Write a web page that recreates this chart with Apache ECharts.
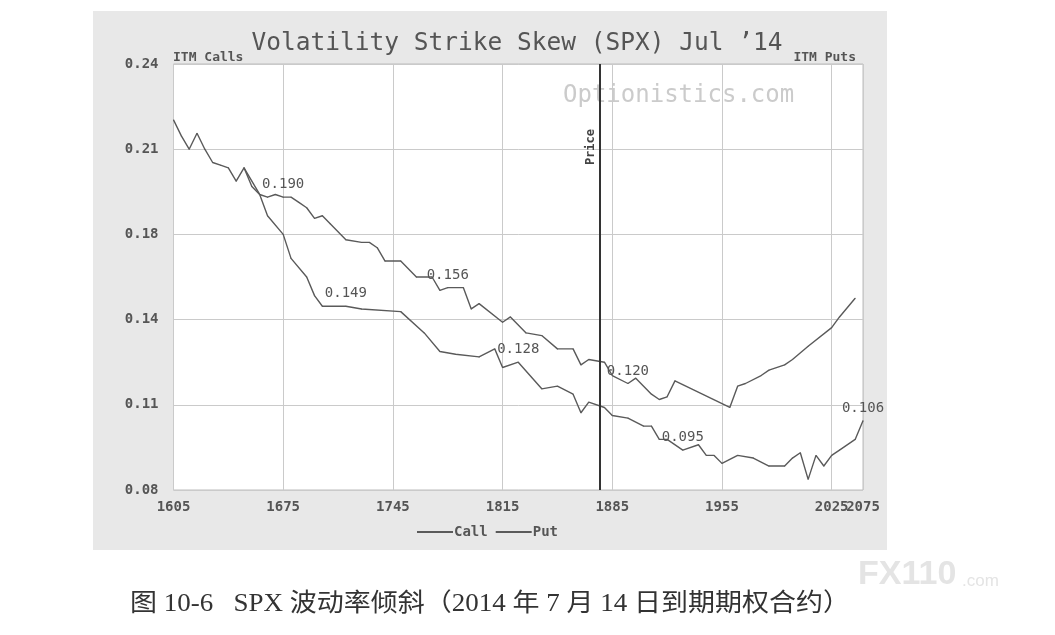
<!DOCTYPE html>
<html><head><meta charset="utf-8">
<script src="https://cdn.jsdelivr.net/npm/echarts@6/dist/echarts.min.js"></script>
<style>html,body{margin:0;padding:0;background:#fff}#c{width:1055px;height:635px}</style>
</head><body><div id="c"></div>
<script>
// ---- data ----
const xTickLabels = ['1605','1675','1745','1815','1885','1955','2025','2075'];
const yTickLabels = ['0.08','0.11','0.14','0.18','0.21','0.24'];
const xMin = 1605, xMax = 2045, xStep = 70;
const yMin = 0.08, yMax = 0.24;

const callStrikes = [1650,1660,1665,1675,1680,1690,1695,1700,1715,1725,1750,1765,1775,1785,1800,1810,1815,1825,1840,1850,1860,1865,1870,1880,1885,1895,1905,1910,1915,1920,1930,1940,1945,1950,1955,1965,1975,1985,1995,2000,2005,2010,2015,2020,2025,2030,2040,2045];
const callValues  = [0.201,0.191,0.183,0.176,0.167,0.160,0.153,0.149,0.149,0.148,0.147,0.139,0.132,0.131,0.130,0.133,0.126,0.128,0.118,0.119,0.116,0.109,0.113,0.111,0.108,0.107,0.104,0.104,0.099,0.099,0.095,0.097,0.093,0.093,0.090,0.093,0.092,0.089,0.089,0.092,0.094,0.084,0.093,0.089,0.093,0.095,0.099,0.106];

const putStrikes = [1605,1610,1615,1620,1625,1630,1635,1640,1645,1650,1655,1660,1665,1670,1675,1680,1685,1690,1695,1700,1705,1715,1725,1730,1735,1740,1750,1760,1770,1775,1780,1790,1795,1800,1815,1820,1830,1840,1850,1860,1865,1870,1880,1885,1895,1900,1910,1915,1920,1925,1960,1965,1970,1980,1985,1995,2000,2010,2025,2030,2040];
const putValues  = [0.219,0.213,0.208,0.214,0.208,0.203,0.202,0.201,0.196,0.201,0.194,0.191,0.190,0.191,0.190,0.190,0.188,0.186,0.182,0.183,0.180,0.174,0.173,0.173,0.171,0.166,0.166,0.160,0.160,0.155,0.156,0.156,0.148,0.150,0.143,0.145,0.139,0.138,0.133,0.133,0.127,0.129,0.128,0.123,0.120,0.122,0.116,0.114,0.115,0.121,0.111,0.119,0.120,0.123,0.125,0.127,0.129,0.134,0.141,0.145,0.152];

const callLabelStrikes = [1715,1825,1930,2045];
const putLabelStrikes  = [1675,1780,1895];
const priceStrike = 1877;

// ---- chart ----
const MONO = 'DejaVu Sans Mono';
const lineColor = '#5a5a5a';
function buildData(strikes, values, labelStrikes){
  return strikes.map((s,i)=>{
    const item = {value:[s, values[i]]};
    if (labelStrikes.indexOf(s) >= 0) item.label = {show:true};
    return item;
  });
}
const seriesLabel = {
  show:false, position:'top', distance:5,
  formatter: p => p.value[1].toFixed(3),
  fontFamily: MONO, fontSize: 14, color:'#555'
};
const tickFont = {fontFamily:MONO, fontWeight:'bold', fontSize:14, color:'#555'};
const lastX = xTickLabels.length - 1;
const xSpan = (xMax - xMin) / xStep;

const chart = echarts.init(document.getElementById('c'), null, {renderer:'canvas'});
chart.setOption({
  animation:false,
  backgroundColor:'#ffffff',
  grid:{left:173.5, top:64, width:689.5, height:426, show:true,
        backgroundColor:'#ffffff', borderColor:'#bdbdbd', borderWidth:1},
  xAxis:[
    {type:'value', min:xMin, max:xMax, show:false},
    {type:'value', min:0, max:xSpan, interval:1, position:'bottom',
     axisLine:{show:false}, axisTick:{show:false},
     splitLine:{show:true, lineStyle:{color:'#cacaca', width:1}},
     axisLabel:Object.assign({showMinLabel:true, showMaxLabel:false, margin:10,
       formatter: v => { const i = Math.round(v); return Math.abs(v-i) < 1e-6 ? xTickLabels[i] : ''; }}, tickFont)},
    {type:'value', min:0, max:xSpan, interval:1, position:'bottom',
     axisLine:{show:false}, axisTick:{show:false}, splitLine:{show:false},
     axisLabel:Object.assign({showMinLabel:false, showMaxLabel:true, margin:10,
       formatter: v => (Math.abs(v - xSpan) < 1e-6 ? xTickLabels[lastX] : '')}, tickFont)}
  ],
  yAxis:[
    {type:'value', min:yMin, max:yMax, show:false},
    {type:'value', min:0, max:yTickLabels.length-1, interval:1, position:'left',
     axisLine:{show:false}, axisTick:{show:false},
     splitLine:{show:true, lineStyle:{color:'#cacaca', width:1}},
     axisLabel:Object.assign({margin:15, formatter: v => yTickLabels[Math.round(v)]}, tickFont)}
  ],
  legend:{left:412, top:520, icon:'rect', itemWidth:36, itemHeight:2, itemGap:8,
    textStyle:{fontFamily:MONO, fontWeight:'bold', fontSize:14, color:'#555', padding:[0,0,0,-4]},
    data:['Call','Put']},
  series:[
    {name:'Call', type:'line', xAxisIndex:0, yAxisIndex:0,
     data: buildData(callStrikes, callValues, callLabelStrikes),
     symbol:'circle', symbolSize:1, showSymbol:true,
     lineStyle:{color:lineColor, width:1.4}, itemStyle:{color:lineColor},
     label: seriesLabel, z:3},
    {name:'Put', type:'line', xAxisIndex:0, yAxisIndex:0,
     data: buildData(putStrikes, putValues, putLabelStrikes),
     symbol:'circle', symbolSize:1, showSymbol:true,
     lineStyle:{color:lineColor, width:1.4}, itemStyle:{color:lineColor},
     label: seriesLabel, z:3,
     markLine:{silent:true, symbol:['none','none'],
       lineStyle:{color:'#333', width:2, type:'solid'},
       label:{show:true, formatter:'Price', position:'insideEndTop', distance:3,
         fontFamily:MONO, fontWeight:'bold', fontSize:12, color:'#444', padding:[0,62,0,0]},
       data:[{xAxis:priceStrike}]}}
  ],
  graphic:[
    {type:'rect', z:-10, shape:{x:93, y:11, width:794, height:539}, style:{fill:'#e8e8e8'}},
    {type:'text', x:517, y:44, style:{text:'Volatility Strike Skew (SPX) Jul \u201914', fontFamily:MONO,
      fontSize:24.5, fill:'#555', textAlign:'center', textVerticalAlign:'middle'}},
    {type:'text', x:173, y:58, style:{text:'ITM Calls', fontFamily:MONO, fontWeight:'bold',
      fontSize:13, fill:'#555', textAlign:'left', textVerticalAlign:'middle'}},
    {type:'text', x:856, y:58, style:{text:'ITM Puts', fontFamily:MONO, fontWeight:'bold',
      fontSize:13, fill:'#555', textAlign:'right', textVerticalAlign:'middle'}},
    {type:'text', x:563, y:96, style:{text:'Optionistics.com', fontFamily:MONO,
      fontSize:24, fill:'#cbcbcb', textAlign:'left', textVerticalAlign:'middle'}},
    {type:'text', x:130, y:604, scaleX:1.08, style:{text:'图 10-6   SPX 波动率倾斜（2014 年 7 月 14 日到期期权合约）',
      fontFamily:"'Liberation Serif','Noto Sans CJK SC'", fontSize:25, fill:'#333',
      textAlign:'left', textVerticalAlign:'middle'}},
    {type:'text', x:858, y:575, style:{text:'FX110', fontFamily:'Liberation Sans', fontWeight:'bold',
      fontSize:34, fill:'#e4e4e4', textAlign:'left', textVerticalAlign:'middle'}},
    {type:'text', x:962, y:581, style:{text:'.com', fontFamily:'Liberation Sans',
      fontSize:17, fill:'#e4e4e4', textAlign:'left', textVerticalAlign:'middle'}}
  ]
});
</script></body></html>
